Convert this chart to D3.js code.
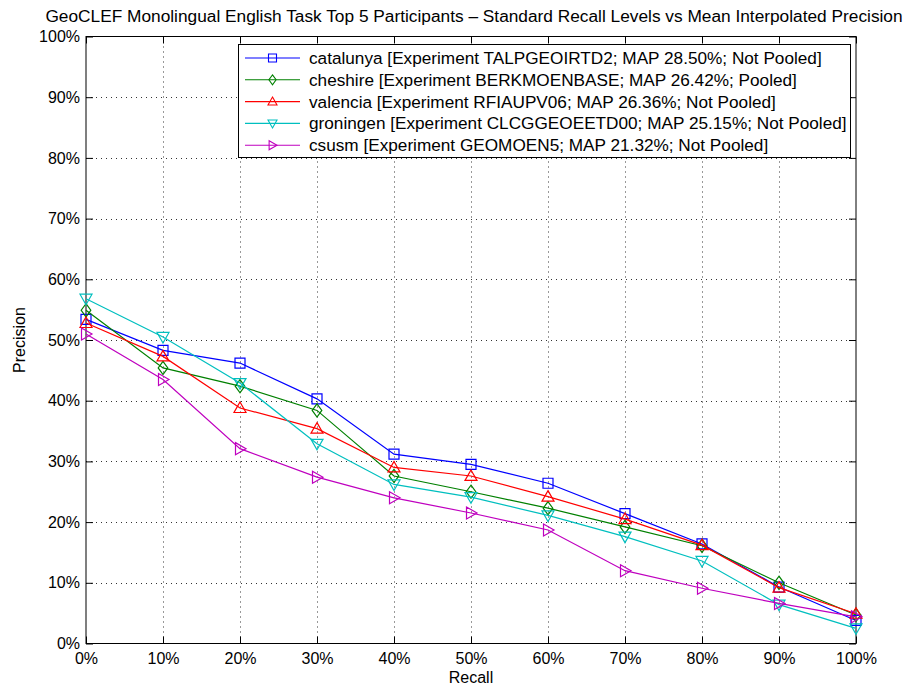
<!DOCTYPE html>
<html><head><meta charset="utf-8">
<script src="https://cdn.jsdelivr.net/npm/d3@7"></script>
<style>body{margin:0;background:#fff}svg{display:block}text{font-family:"Liberation Sans",Arial,sans-serif}</style>
</head><body><svg id="c" width="904" height="686"></svg>
<script>
const recall = [0,10,20,30,40,50,60,70,80,90,100];
const catalunya = [53.4,48.3,46.2,40.3,31.2,29.5,26.4,21.4,16.4,9.3,3.8];
const cheshire  = [54.9,45.4,42.4,38.4,27.6,25.0,22.3,19.2,16.1,10.0,4.7];
const valencia  = [52.8,47.3,38.8,35.4,29.0,27.6,24.2,20.5,16.2,9.2,4.9];
const groningen = [56.8,50.5,42.9,32.9,26.2,24.1,21.1,17.6,13.6,6.4,2.5];
const csusm     = [51.0,43.5,32.1,27.4,24.0,21.5,18.7,12.0,9.1,6.6,4.4];
const seriesNames = [
 "catalunya [Experiment TALPGEOIRTD2; MAP 28.50%; Not Pooled]",
 "cheshire [Experiment BERKMOENBASE; MAP 26.42%; Pooled]",
 "valencia [Experiment RFIAUPV06; MAP 26.36%; Not Pooled]",
 "groningen [Experiment CLCGGEOEETD00; MAP 25.15%; Not Pooled]",
 "csusm [Experiment GEOMOEN5; MAP 21.32%; Not Pooled]"
];
const yTicks = [0,10,20,30,40,50,60,70,80,90,100];
const title = "GeoCLEF Monolingual English Task Top 5 Participants \u2013 Standard Recall Levels vs Mean Interpolated Precision";

const series = [
 {name:seriesNames[0], values:catalunya, color:"#0000ff", marker:"square"},
 {name:seriesNames[1], values:cheshire,  color:"#008000", marker:"diamond"},
 {name:seriesNames[2], values:valencia,  color:"#ff0000", marker:"up"},
 {name:seriesNames[3], values:groningen, color:"#00bfbf", marker:"down"},
 {name:seriesNames[4], values:csusm,     color:"#bf00bf", marker:"right"}
];

const svg = d3.select("#c");
const L=86, R=856, T=36.5, B=643.5;
const x = d3.scaleLinear().domain([0,100]).range([L,R]);
const y = d3.scaleLinear().domain([0,100]).range([B,T]);

// grid
const g = svg.append("g");
g.selectAll(".vg").data(recall.slice(1,-1)).enter().append("line")
 .attr("x1",d=>x(d)+0.5).attr("x2",d=>x(d)+0.5).attr("y1",T).attr("y2",B)
 .attr("stroke","#333").attr("stroke-width",1).attr("stroke-dasharray","1,4");
g.selectAll(".hg").data(yTicks.slice(1,-1)).enter().append("line")
 .attr("y1",d=>Math.round(y(d))+0.5).attr("y2",d=>Math.round(y(d))+0.5).attr("x1",L).attr("x2",R)
 .attr("stroke","#333").attr("stroke-width",1).attr("stroke-dasharray","1,4");

// axes
const fmt = d=>d+"%";
svg.append("g").attr("transform",`translate(0,${B})`)
 .call(d3.axisBottom(x).tickValues(recall).tickFormat(fmt).tickSizeInner(-7).tickSizeOuter(0).tickPadding(9))
 .call(a=>{a.select(".domain").remove();a.selectAll("text").attr("font-size",16).attr("fill","#000");a.selectAll("line").attr("stroke","#000");});
svg.append("g").attr("transform",`translate(${L},0)`)
 .call(d3.axisLeft(y).tickValues(yTicks).tickFormat(fmt).tickSizeInner(-7).tickSizeOuter(0).tickPadding(6))
 .call(a=>{a.select(".domain").remove();a.selectAll("text").attr("font-size",16).attr("fill","#000");a.selectAll("line").attr("stroke","#000");});
svg.append("g").attr("transform",`translate(0,${T})`)
 .call(d3.axisTop(x).tickValues(recall).tickFormat("").tickSizeInner(-7).tickSizeOuter(0))
 .call(a=>{a.select(".domain").remove();a.selectAll("line").attr("stroke","#000");});
svg.append("g").attr("transform",`translate(${R},0)`)
 .call(d3.axisRight(y).tickValues(yTicks).tickFormat("").tickSizeInner(-7).tickSizeOuter(0))
 .call(a=>{a.select(".domain").remove();a.selectAll("line").attr("stroke","#000");});
svg.append("rect").attr("x",L).attr("y",T).attr("width",R-L).attr("height",B-T)
 .attr("fill","none").attr("stroke","#000").attr("stroke-width",1);

function markerPath(type, s){
 const h=s/2;
 switch(type){
  case "square": return `M${-h},${-h}H${h}V${h}H${-h}Z`;
  case "diamond": return `M0,${-h*1.1}L${h*0.8},0L0,${h*1.1}L${-h*0.8},0Z`;
  case "up": return `M0,${-h}L${h},${h*0.75}L${-h},${h*0.75}Z`;
  case "down": return `M0,${h}L${h},${-h*0.75}L${-h},${-h*0.75}Z`;
  case "right": return `M${h},0L${-h*0.75},${h}L${-h*0.75},${-h}Z`;
 }
}

const line = d3.line().x((d,i)=>x(recall[i])).y(d=>y(d));
series.forEach(s=>{
 svg.append("path").datum(s.values).attr("d",line).attr("fill","none")
  .attr("stroke",s.color).attr("stroke-width",1.2);
 svg.selectAll(null).data(s.values).enter().append("path")
  .attr("transform",(d,i)=>`translate(${x(recall[i])},${y(d)})`)
  .attr("d",markerPath(s.marker, s.marker==="square"?10:12))
  .attr("fill","none").attr("stroke",s.color).attr("stroke-width",1.2);
});

// legend
const lg = svg.append("g");
lg.append("rect").attr("x",238.5).attr("y",44.5).attr("width",612).attr("height",113)
 .attr("fill","#fff").attr("stroke","#000").attr("stroke-width",1);
series.forEach((s,i)=>{
 const yy = 58 + i*21.8;
 lg.append("line").attr("x1",245).attr("x2",300).attr("y1",yy).attr("y2",yy).attr("stroke",s.color).attr("stroke-width",1.1);
 lg.append("path").attr("transform",`translate(272.5,${yy})`).attr("d",markerPath(s.marker, s.marker==="square"?8:9))
  .attr("fill","none").attr("stroke",s.color).attr("stroke-width",1.1);
 lg.append("text").attr("x",309).attr("y",yy).attr("dy","0.35em").attr("font-size",17.2).text(s.name);
});

// labels
svg.append("text").attr("x",474).attr("y",22).attr("text-anchor","middle").attr("font-size",17.3).text(title);
svg.append("text").attr("x",(L+R)/2).attr("y",683).attr("text-anchor","middle").attr("font-size",16).text("Recall");
svg.append("text").attr("transform",`translate(25,${(T+B)/2}) rotate(-90)`).attr("text-anchor","middle").attr("font-size",16).text("Precision");
</script></body></html>
